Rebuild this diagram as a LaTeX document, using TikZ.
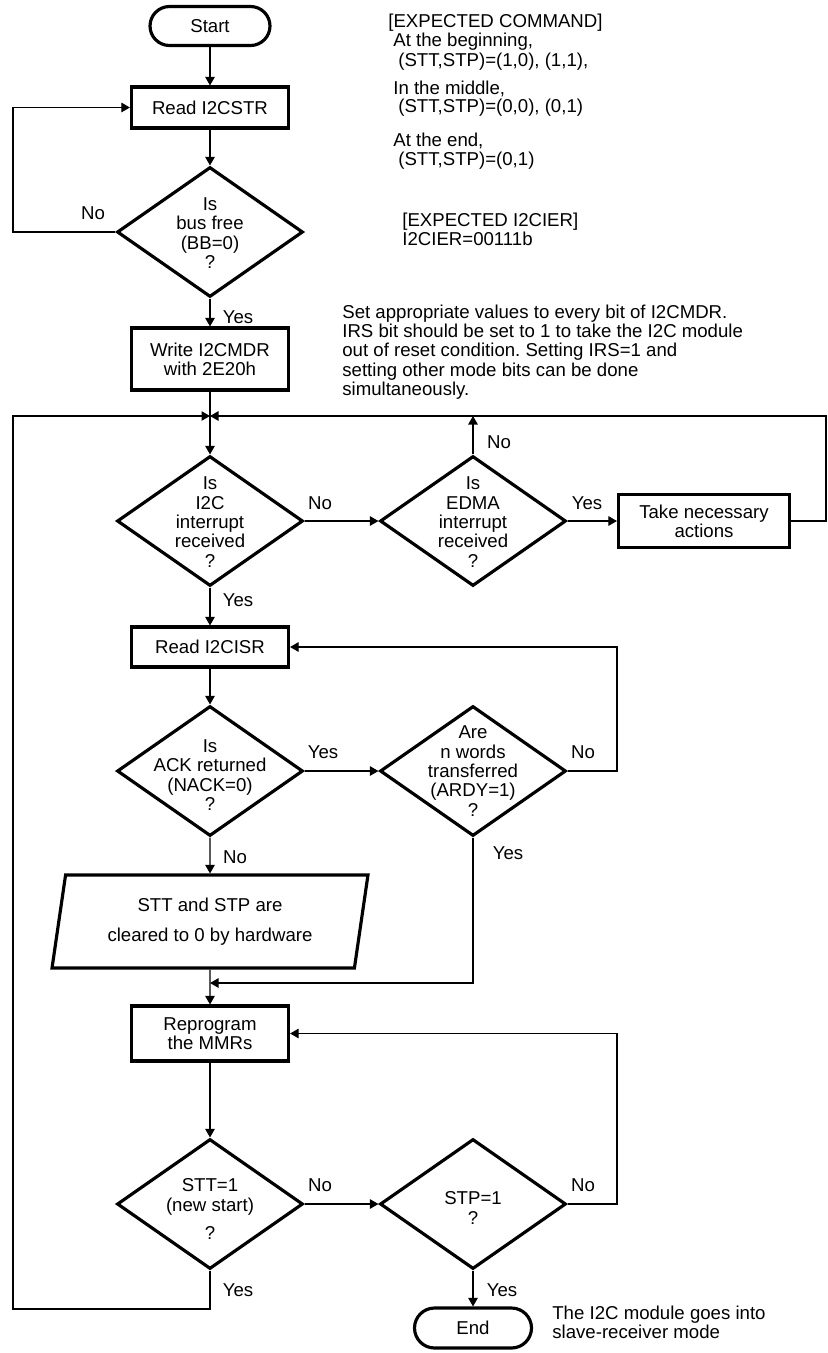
\documentclass[tikz,border=0pt]{standalone}
\usepackage{fontspec}
\setmainfont{Liberation Sans}
\usetikzlibrary{positioning,arrows.meta,shapes.geometric,calc}
\frenchspacing

\begin{document}
\begin{tikzpicture}[
  x=0.02cm,y=-0.02cm,
  >={Triangle[length=1.7mm,width=1.9mm]},
  every node/.style={font=\fontsize{10.6}{11}\selectfont},
  termbox/.style={draw,line width=1.8pt,rounded corners=3.9mm,minimum width=2.4cm,minimum height=0.78cm,inner sep=0pt},
  procbox/.style={draw,line width=1.8pt,minimum width=3.14cm,minimum height=0.82cm,align=center,inner sep=0pt},
  decbox/.style={draw,line width=1.8pt,diamond,aspect=1.42,inner sep=0pt,minimum width=3.72cm,minimum height=2.6cm},
  dectext/.style={align=center,inner sep=0pt},
  iobox/.style={draw,line width=1.8pt,trapezium,trapezium left angle=74,trapezium right angle=106,trapezium stretches body,minimum width=6.32cm,minimum height=1.86cm,align=center,inner sep=0pt},
  ar/.style={->,line width=0.6pt},
  ln/.style={line width=0.6pt},
  lbl/.style={inner sep=1pt},
  note/.style={anchor=west,align=left,inner sep=0pt}
]
\useasboundingbox (0,0) rectangle (828,1353);

% TOP: start, wait for bus free, set mode
\node[termbox] (start) at (210,26) {Start};
\node[procbox] (rd1) at (210,107.5) {Read I2CSTR};
\node[decbox] (d1) at (210,232) {};
\node[dectext] (d1t) at (210,233) {Is\\bus free\\(BB=0)\\?};
\node[procbox,minimum height=1.24cm] (wr) at (210,359) {Write I2CMDR\\with 2E20h};

% notes on the right
\node[note] (cmd0) at (388,23) {[EXPECTED COMMAND]};
\node[note] (cmd1) at (393,42) {At the beginning,};
\node[note] (cmd2) at (398,62) {(STT,STP)=(1,0), (1,1),};
\node[note] (cmd3) at (393,89) {In the middle,};
\node[note] (cmd4) at (398,108) {(STT,STP)=(0,0), (0,1)};
\node[note] (cmd5) at (393,141) {At the end,};
\node[note] (cmd6) at (398,161) {(STT,STP)=(0,1)};
\node[note] (ier) at (402,229) {[EXPECTED I2CIER]\\I2CIER=00111b};
\node[note] (mdr) at (342,352) {Set appropriate values to every bit of I2CMDR.\\IRS bit should be set to 1 to take the I2C module\\out of reset condition. Setting IRS=1 and\\setting other mode bits can be done\\simultaneously.};

\draw[ar] (start) -- (rd1);
\draw[ar] (rd1) -- (d1);
\coordinate (lft) at (13,0);
\coordinate (rgt) at (826,0);
\coordinate (lp) at (617,0);
\draw[ar] (d1.west) -- (d1.west -| lft) |- (rd1.west);
\node[lbl] (n1) at (93,213) {No};
\draw[ar] (d1) -- (wr);
\node[lbl] (y1) at (238,317) {Yes};

% MIDDLE: interrupt loop
\coordinate (jn) at (210,416);
\node[decbox] (d2) at (210,521) {};
\node[dectext] (d2t) at (210,522) {Is\\I2C\\interrupt\\received\\?};
\node[decbox] (d3) at (473,521) {};
\node[dectext] (d3t) at (473,522) {Is\\EDMA\\interrupt\\received\\?};
\node[procbox,minimum width=3.42cm,minimum height=1.06cm] (take) at (704,521) {Take necessary\\actions};
\draw[ar] (wr) -- (d2);
\draw[ar] (d2) -- (d3);
\node[lbl] (n2) at (320,503) {No};
\draw[ar] (d3.north) -- (d3.north |- jn);
\node[lbl] (n3) at (499,442) {No};
\draw[ar] (d3) -- (take);
\node[lbl] (y3) at (587,503) {Yes};
\draw[ar] (take.east) -| (rgt |- jn) -- (jn);

\node[procbox,minimum height=0.8cm] (rd2) at (210,647) {Read I2CISR};
\draw[ar] (d2) -- (rd2);
\node[lbl] (y2) at (238,600) {Yes};
\node[decbox] (d4) at (210,771) {};
\node[dectext] (d4t) at (210,775) {Is\\ACK returned\\(NACK=0)\\?};
\node[decbox] (d5) at (473,771) {};
\node[dectext] (d5t) at (473,771) {Are\\n words\\transferred\\(ARDY=1)\\?};
\draw[ar] (rd2) -- (d4);
\draw[ar] (d4) -- (d5);
\node[lbl] (y4) at (323,752) {Yes};
\draw[ar] (d5.east) -| (lp |- rd2.east) -- (rd2.east);
\node[lbl] (n5) at (583,752) {No};
\node[iobox] (clr) at (210,921.5) {STT and STP are\\[6pt]cleared to 0 by hardware};
\draw[ar] (d4) -- (clr);
\node[lbl] (n4) at (235,857) {No};

% BOTTOM: reprogram and restart / stop
\coordinate (mrg) at (210,983);
\node[procbox,minimum height=1.1cm] (rep) at (210,1033.5) {Reprogram\\the MMRs};
\draw[ar] (clr) -- (rep);
\draw[ar] (d5.south) |- (mrg);
\node[lbl] (y5) at (508,853) {Yes};
\node[decbox] (d6) at (210,1204) {};
\node[dectext] (d6t) at (210,1209) {STT=1\\(new start)\\[5pt]?};
\node[decbox] (d7) at (473,1204) {};
\node[dectext] (d7t) at (473,1208) {STP=1\\?};
\draw[ar] (rep) -- (d6);
\draw[ar] (d6) -- (d7);
\node[lbl] (n6) at (320,1185) {No};
\draw[ar] (d7.east) -| (lp |- rep.east) -- (rep.east);
\node[lbl] (n7) at (583,1185) {No};
\coordinate (bot) at (0,1309);
\draw[ar] (d6.south) |- (lft |- bot) |- (jn);
\node[lbl] (y6) at (238,1290) {Yes};
\node[termbox,minimum width=2.34cm,minimum height=0.8cm,rounded corners=4mm] (fin) at (473,1328) {End};
\draw[ar] (d7) -- (fin);
\node[lbl] (y7) at (502,1290) {Yes};
\node[note] (slv) at (552,1322) {The I2C module goes into\\slave-receiver mode};
\end{tikzpicture}
\end{document}
